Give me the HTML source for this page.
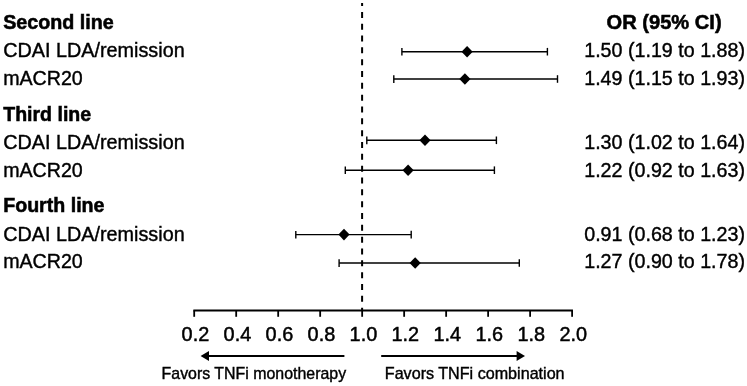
<!DOCTYPE html>
<html lang="en"><head><meta charset="utf-8"><title>Forest plot</title>
<style>
html,body{margin:0;padding:0;background:#fff;}
svg{display:block;}
text{font-family:"Liberation Sans",sans-serif;fill:#000;stroke:#000;stroke-width:0.4px;}
.b{font-weight:bold;stroke-width:0.55px;}
</style></head><body>
<svg width="747" height="386" viewBox="0 0 747 386">
<rect width="747" height="386" fill="#fff"/>
<text x="3.2" y="28.95" font-size="20.3" class="b" textLength="110.6" lengthAdjust="spacingAndGlyphs">Second line</text>
<text x="3.2" y="56.7" font-size="20.0" textLength="181.5" lengthAdjust="spacingAndGlyphs">CDAI LDA/remission</text>
<text x="3.2" y="84.5" font-size="20.0" textLength="79.6" lengthAdjust="spacingAndGlyphs">mACR20</text>
<text x="3.2" y="120.9" font-size="20.3" class="b" textLength="88.0" lengthAdjust="spacingAndGlyphs">Third line</text>
<text x="3.2" y="149.2" font-size="20.0" textLength="181.5" lengthAdjust="spacingAndGlyphs">CDAI LDA/remission</text>
<text x="3.2" y="177.4" font-size="20.0" textLength="79.6" lengthAdjust="spacingAndGlyphs">mACR20</text>
<text x="3.2" y="212.4" font-size="20.3" class="b" textLength="101.3" lengthAdjust="spacingAndGlyphs">Fourth line</text>
<text x="3.2" y="240.6" font-size="20.0" textLength="181.5" lengthAdjust="spacingAndGlyphs">CDAI LDA/remission</text>
<text x="3.2" y="268.2" font-size="20.0" textLength="79.6" lengthAdjust="spacingAndGlyphs">mACR20</text>
<text x="606.6" y="29.1" font-size="20.3" class="b" textLength="115" lengthAdjust="spacingAndGlyphs">OR (95% CI)</text>
<text x="584.2" y="57.0" font-size="20.0" textLength="160.8" lengthAdjust="spacingAndGlyphs">1.50 (1.19 to 1.88)</text>
<text x="584.2" y="85.1" font-size="20.0" textLength="160.8" lengthAdjust="spacingAndGlyphs">1.49 (1.15 to 1.93)</text>
<text x="584.2" y="149.0" font-size="20.0" textLength="160.8" lengthAdjust="spacingAndGlyphs">1.30 (1.02 to 1.64)</text>
<text x="584.2" y="177.1" font-size="20.0" textLength="160.8" lengthAdjust="spacingAndGlyphs">1.22 (0.92 to 1.63)</text>
<text x="584.2" y="240.7" font-size="20.0" textLength="160.8" lengthAdjust="spacingAndGlyphs">0.91 (0.68 to 1.23)</text>
<text x="584.2" y="268.2" font-size="20.0" textLength="160.8" lengthAdjust="spacingAndGlyphs">1.27 (0.90 to 1.78)</text>
<line x1="362.1" y1="2.9" x2="362.1" y2="310" stroke="#000" stroke-width="2" stroke-dasharray="6 5.83" stroke-dashoffset="2.85"/>
<g stroke="#000" stroke-width="1.4"><line x1="401.9" y1="51.7" x2="547.4" y2="51.7"/><line x1="401.9" y1="48.0" x2="401.9" y2="55.6"/><line x1="547.4" y1="47.900000000000006" x2="547.4" y2="55.5"/></g>
<polygon points="461.5,51.7 467.1,45.900000000000006 472.70000000000005,51.7 467.1,57.5" fill="#000"/>
<g stroke="#000" stroke-width="1.4"><line x1="393.8" y1="79.0" x2="557.5" y2="79.0"/><line x1="393.8" y1="75.3" x2="393.8" y2="82.9"/><line x1="557.5" y1="75.2" x2="557.5" y2="82.8"/></g>
<polygon points="459.29999999999995,79.0 464.9,73.2 470.5,79.0 464.9,84.8" fill="#000"/>
<g stroke="#000" stroke-width="1.4"><line x1="366.8" y1="140.3" x2="496.4" y2="140.3"/><line x1="366.8" y1="136.60000000000002" x2="366.8" y2="144.20000000000002"/><line x1="496.4" y1="136.5" x2="496.4" y2="144.10000000000002"/></g>
<polygon points="419.4,140.3 425.0,134.5 430.6,140.3 425.0,146.10000000000002" fill="#000"/>
<g stroke="#000" stroke-width="1.4"><line x1="345.3" y1="170.2" x2="494.4" y2="170.2"/><line x1="345.3" y1="166.5" x2="345.3" y2="174.1"/><line x1="494.4" y1="166.39999999999998" x2="494.4" y2="174.0"/></g>
<polygon points="402.5,170.2 408.1,164.39999999999998 413.70000000000005,170.2 408.1,176.0" fill="#000"/>
<g stroke="#000" stroke-width="1.4"><line x1="295.8" y1="234.6" x2="411.2" y2="234.6"/><line x1="295.8" y1="230.9" x2="295.8" y2="238.5"/><line x1="411.2" y1="230.79999999999998" x2="411.2" y2="238.4"/></g>
<polygon points="338.4,234.6 344.0,228.79999999999998 349.6,234.6 344.0,240.4" fill="#000"/>
<g stroke="#000" stroke-width="1.4"><line x1="339.1" y1="263.0" x2="519.3" y2="263.0"/><line x1="339.1" y1="259.3" x2="339.1" y2="266.9"/><line x1="519.3" y1="259.2" x2="519.3" y2="266.8"/></g>
<polygon points="409.54999999999995,263.0 415.15,257.2 420.75,263.0 415.15,268.8" fill="#000"/>
<g stroke="#000" fill="none"><line x1="193.35" y1="310.4" x2="572.96" y2="310.4" stroke-width="2"/>
<line x1="194.20" y1="310.4" x2="194.20" y2="316.8" stroke-width="1.8"/><line x1="236.19" y1="310.4" x2="236.19" y2="316.8" stroke-width="1.8"/><line x1="278.18" y1="310.4" x2="278.18" y2="316.8" stroke-width="1.8"/><line x1="320.17" y1="310.4" x2="320.17" y2="316.8" stroke-width="1.8"/><line x1="362.16" y1="310.4" x2="362.16" y2="316.8" stroke-width="1.8"/><line x1="404.15" y1="310.4" x2="404.15" y2="316.8" stroke-width="1.8"/><line x1="446.14" y1="310.4" x2="446.14" y2="316.8" stroke-width="1.8"/><line x1="488.13" y1="310.4" x2="488.13" y2="316.8" stroke-width="1.8"/><line x1="530.12" y1="310.4" x2="530.12" y2="316.8" stroke-width="1.8"/><line x1="572.11" y1="310.4" x2="572.11" y2="316.8" stroke-width="1.8"/></g>
<text x="195.4" y="340.9" font-size="20.7" style="stroke-width:0.5px" text-anchor="middle" textLength="27.6" lengthAdjust="spacingAndGlyphs">0.2</text>
<text x="237.4" y="340.9" font-size="20.7" style="stroke-width:0.5px" text-anchor="middle" textLength="27.6" lengthAdjust="spacingAndGlyphs">0.4</text>
<text x="279.4" y="340.9" font-size="20.7" style="stroke-width:0.5px" text-anchor="middle" textLength="27.6" lengthAdjust="spacingAndGlyphs">0.6</text>
<text x="321.4" y="340.9" font-size="20.7" style="stroke-width:0.5px" text-anchor="middle" textLength="27.6" lengthAdjust="spacingAndGlyphs">0.8</text>
<text x="363.4" y="340.9" font-size="20.7" style="stroke-width:0.5px" text-anchor="middle" textLength="27.6" lengthAdjust="spacingAndGlyphs">1.0</text>
<text x="405.3" y="340.9" font-size="20.7" style="stroke-width:0.5px" text-anchor="middle" textLength="27.6" lengthAdjust="spacingAndGlyphs">1.2</text>
<text x="447.3" y="340.9" font-size="20.7" style="stroke-width:0.5px" text-anchor="middle" textLength="27.6" lengthAdjust="spacingAndGlyphs">1.4</text>
<text x="489.3" y="340.9" font-size="20.7" style="stroke-width:0.5px" text-anchor="middle" textLength="27.6" lengthAdjust="spacingAndGlyphs">1.6</text>
<text x="531.3" y="340.9" font-size="20.7" style="stroke-width:0.5px" text-anchor="middle" textLength="27.6" lengthAdjust="spacingAndGlyphs">1.8</text>
<text x="573.3" y="340.9" font-size="20.7" style="stroke-width:0.5px" text-anchor="middle" textLength="27.6" lengthAdjust="spacingAndGlyphs">2.0</text>
<line x1="207" y1="356.0" x2="344.4" y2="356.0" stroke="#000" stroke-width="2.1"/><polygon points="200.6,356.0 209,351.1 209,360.9" fill="#000"/>
<line x1="381.2" y1="356.0" x2="518" y2="356.0" stroke="#000" stroke-width="2.1"/><polygon points="525,356.0 516.6,351.1 516.6,360.9" fill="#000"/>
<text x="161.6" y="379.4" font-size="16.1" textLength="184.5" lengthAdjust="spacingAndGlyphs">Favors TNFi monotherapy</text>
<text x="384.8" y="379.4" font-size="16.1" textLength="179.8" lengthAdjust="spacingAndGlyphs">Favors TNFi combination</text>
</svg>
</body></html>
